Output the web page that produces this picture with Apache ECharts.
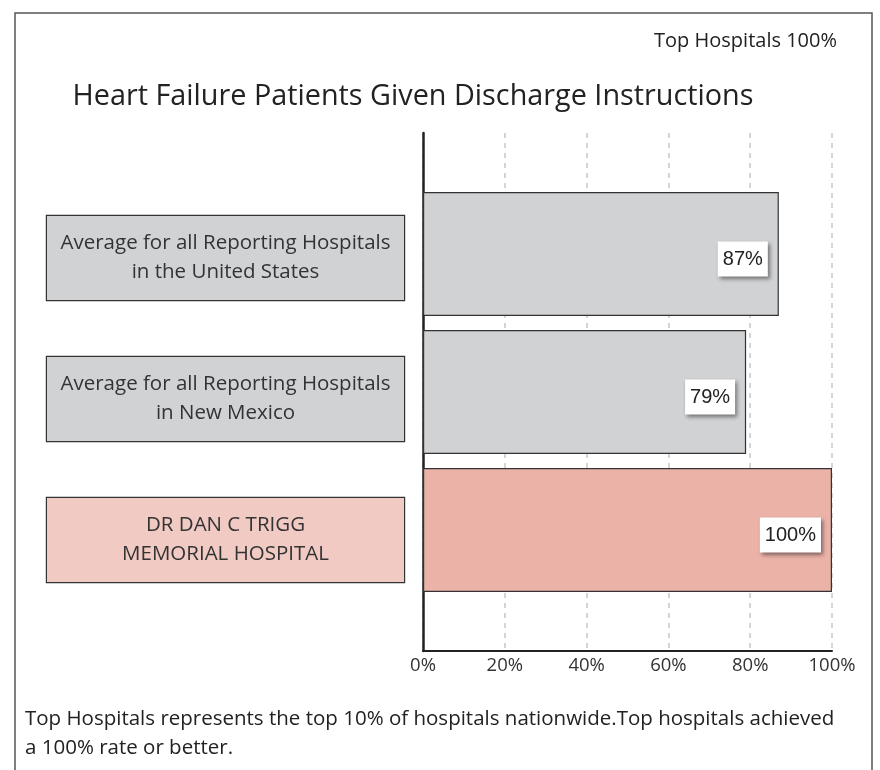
<!DOCTYPE html>
<html>
<head>
<meta charset="utf-8">
<script src="https://cdn.jsdelivr.net/npm/echarts@6/dist/echarts.min.js"></script>
<style>
  html, body { margin: 0; padding: 0; background: #fff; }
  #main { width: 880px; height: 770px; }
</style>
</head>
<body>
<div id="main"></div>
<script>
  // categories, top to bottom
  var categories = [
    'Average for all Reporting Hospitals\nin the United States',
    'Average for all Reporting Hospitals\nin New Mexico',
    'DR DAN C TRIGG\nMEMORIAL HOSPITAL'
  ];
  var values = [87, 79, 100];
  var barColors = ['#d1d2d4', '#d1d2d4', '#ebb3a8'];
  var boxColors = ['#d1d2d4', '#d1d2d4', '#f0cac3'];
  var xTicks = [0, 20, 40, 60, 80, 100];

  var font = '"Open Sans", Lato, sans-serif';
  var myChart = echarts.init(document.getElementById('main'));

  // style of the category boxes on the left
  function boxStyle(i) {
    return {
      align: 'center',
      verticalAlign: 'middle',
      width: 357, height: 84,
      lineHeight: 29,
      fontFamily: font, fontSize: 20.5, color: '#333',
      borderColor: '#333', borderWidth: 1.2,
      backgroundColor: boxColors[i]
    };
  }

  myChart.setOption({
    animation: false,
    title: [
      {
        text: 'Heart Failure Patients Given Discharge Instructions',
        left: 408, top: 77, textAlign: 'center',
        textStyle: { fontFamily: font, fontSize: 28.8, fontWeight: 'normal', color: '#222' }
      },
      {
        text: 'Top Hospitals 100%',
        right: 38, top: 26,
        textStyle: { fontFamily: font, fontSize: 20, fontWeight: 'normal', color: '#222' }
      },
      {
        text: 'Top Hospitals represents the top 10% of hospitals nationwide.Top hospitals achieved\na 100% rate or better.',
        left: 20, top: 700,
        textStyle: { fontFamily: font, fontSize: 20.5, fontWeight: 'normal', color: '#222', lineHeight: 28.5 }
      }
    ],
    graphic: [{
      type: 'rect', silent: true, z: -10,
      shape: { x: 15, y: 13, width: 857, height: 800 },
      style: { fill: 'none', stroke: '#555', lineWidth: 1.5 }
    }],
    grid: [
      // frame: axis lines, dashed grid, tick labels
      { left: 423, right: 48, top: 133, bottom: 119 },
      // bars
      { left: 423, right: 48, top: 185, height: 414 },
      // category boxes
      { left: 404, right: 48, top: 187.5, height: 423 }
    ],
    xAxis: [
      {
        gridIndex: 0, type: 'value', min: 0, max: 100, interval: 20,
        axisLine: { show: true, lineStyle: { color: '#222', width: 2 } },
        axisTick: { show: false },
        axisLabel: {
          margin: 5, color: '#333', fontFamily: font, fontSize: 18.5,
          formatter: function (v) { return xTicks.indexOf(v) >= 0 ? v + '%' : ''; }
        },
        splitLine: { show: true, lineStyle: { color: '#c8c8c8', type: [5, 5], width: 1.5 } }
      },
      { gridIndex: 1, type: 'value', min: 0, max: 100, show: false },
      { gridIndex: 2, type: 'value', min: 0, max: 100, show: false }
    ],
    yAxis: [
      {
        gridIndex: 0, type: 'value', min: 0, max: 1,
        axisLine: { show: true, lineStyle: { color: '#222', width: 2.5 } },
        axisTick: { show: false }, axisLabel: { show: false }, splitLine: { show: false }
      },
      {
        gridIndex: 1, type: 'category', inverse: true, data: categories,
        show: false
      },
      {
        gridIndex: 2, type: 'category', inverse: true,
        data: categories.map(function (c, i) {
          return { value: c, textStyle: boxStyle(i) };
        }),
        axisLine: { show: false }, axisTick: { show: false }, splitLine: { show: false },
        axisLabel: Object.assign({ margin: 178.5 }, boxStyle(0))
      }
    ],
    series: [{
      type: 'bar',
      xAxisIndex: 1, yAxisIndex: 1,
      barWidth: 124,
      data: values.map(function (v, i) {
        return { value: v, itemStyle: { color: barColors[i] } };
      }),
      itemStyle: { borderColor: '#333', borderWidth: 1.2 },
      label: {
        show: true,
        position: 'insideRight',
        distance: 11,
        offset: [0, 5],
        formatter: '{c}%',
        fontFamily: '"Liberation Sans", Arial, sans-serif',
        fontSize: 20,
        lineHeight: 20,
        color: '#222',
        backgroundColor: '#fff',
        padding: [8, 5, 7, 5],
        shadowColor: 'rgba(0,0,0,0.45)',
        shadowBlur: 4,
        shadowOffsetX: 2,
        shadowOffsetY: 2
      }
    }]
  });
  window.onresize = function () { myChart.resize(); };
</script>
</body>
</html>
